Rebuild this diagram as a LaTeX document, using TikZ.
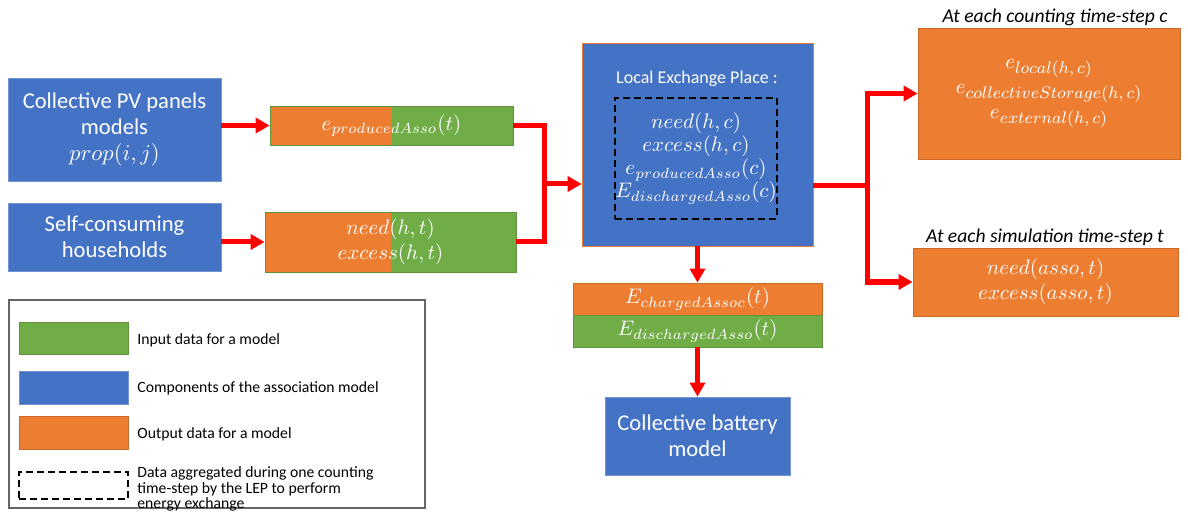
\documentclass[tikz,border=0pt]{standalone}
\usepackage{fix-cm}
\usepackage{fontspec}
\setsansfont{Carlito}
\usetikzlibrary{arrows.meta}
\definecolor{compblue}{HTML}{4472C4}
\definecolor{outorange}{HTML}{ED7D31}
\definecolor{ingreen}{HTML}{70AD47}
\newcommand\wsub[1]{\hbox{\fontsize{8.4}{9}\selectfont$#1$}}
\tikzset{
  box/.style={inner sep=0pt, align=center, text=white},
  comp/.style={box, fill=compblue, draw=compblue!75!white, font=\sffamily\fontsize{11.3}{13}\selectfont},
  outp/.style={box, fill=outorange, draw=outorange!85!black, font=\fontsize{10.5}{12.5}\selectfont},
  inp/.style={box, fill=ingreen, draw=ingreen!85!black, font=\fontsize{10.5}{12.5}\selectfont},
  halfbox/.style={inp, path picture={\fill[outorange] (path picture bounding box.south west) rectangle (path picture bounding box.north);}},
  link/.style={draw=red, line width=2.5pt},
  flow/.style={link, -{Triangle[length=7pt,width=7.5pt]}},
  steptitle/.style={font=\sffamily\itshape\fontsize{9.8}{11}\selectfont, text=black},
  legtext/.style={anchor=west, align=left, inner sep=0pt, font=\sffamily\fontsize{7.85}{7.6}\selectfont},
  swatch/.style={minimum width=54.5pt, minimum height=16pt, inner sep=0pt},
}
\begin{document}
\begin{tikzpicture}[x=0.5pt, y=-0.5pt]
  %%%%% START %%%%%
  \useasboundingbox (0,0) rectangle (1188,518);

  % models
  \node[comp, minimum width=106.5pt, minimum height=51.5pt] (pv) at (114.5,129.5) {Collective PV panels\\models\\$prop(i,j)$};
  \node[comp, minimum width=106.5pt, minimum height=34pt] (self) at (114.5,237) {Self-consuming\\households};

  \node[halfbox, minimum width=121.5pt, minimum height=19.5pt] (eprod) at (391.5,125.5) {$e_{producedAsso}(t)$};
  \node[halfbox, minimum width=125.5pt, minimum height=30pt] (need) at (390.5,242) {$need(h,t)$\\$excess(h,t)$};

  % local exchange place
  \node[comp, draw=outorange, minimum width=115.5pt, minimum height=101.5pt] (lep) at (697.5,144.5) {};
  \node[text=white, font=\sffamily\fontsize{9}{10}\selectfont] (leptitle) at (697,79) {Local Exchange Place :};
  \node[box, draw=black, dashed, line width=1pt, dash pattern=on 3.5pt off 2pt,
        minimum width=79pt, minimum height=60.5pt, font=\fontsize{10.5}{11.5}\selectfont] (agg) at (696,158.5)
        {$need(h,c)$\\$excess(h,c)$\\$e_{producedAsso}(c)$\\$E_{dischargedAsso}(c)$};

  % outputs
  \node[outp, minimum width=131pt, minimum height=65.5pt] (outc) at (1049,93.5)
        {$e_{\wsub{local(h,c)}}$\\$e_{\wsub{collectiveStorage(h,c)}}$\\$e_{\wsub{external(h,c)}}$};
  \node[steptitle] (titc) at (1055,17) {At each counting time-step c};
  \node[outp, minimum width=132.5pt, minimum height=34pt] (outs) at (1045.5,282) {$need(asso,t)$\\$excess(asso,t)$};
  \node[steptitle] (tits) at (1045,237) {At each simulation time-step t};

  \node[outp, minimum width=124.5pt, minimum height=16pt] (chg) at (697.5,299) {$E_{chargedAssoc}(t)$};
  \node[inp, minimum width=124.5pt, minimum height=16pt] (dis) at (697.5,331) {$E_{dischargedAsso}(t)$};
  \node[comp, minimum width=92.5pt, minimum height=39pt] (bat) at (697.5,436) {Collective battery\\model};

  % connectors
  \draw[flow] (pv.east |- eprod.west) -- (eprod.west);
  \draw[flow] (self.east |- need.west) -- (need.west);
  \coordinate (jin) at (544,184);
  \draw[link] (eprod.east) -| (jin) |- (need.east);
  \draw[flow] (jin) -- (jin -| lep.west);
  \coordinate (jout) at (867,186);
  \draw[link] (lep.east |- jout) -- (jout);
  \draw[flow] (jout) |- (outc.west);
  \draw[flow] (jout) |- (outs.west);
  \draw[flow] (lep.south) -- (chg.north);
  \draw[flow] (dis.south) -- (bat.north);

  % legend
  \draw[black!60, line width=0.7pt] (9,300) rectangle (425,508);
  \node[swatch, fill=ingreen, draw=ingreen!85!black] (lgin) at (73.5,338) {};
  \node[swatch, fill=compblue, draw=compblue!75!white, minimum height=16.5pt] (lgcomp) at (73.5,387.5) {};
  \node[swatch, fill=outorange, draw=outorange!85!black, minimum height=16.5pt] (lgout) at (73.5,432.5) {};
  \node[swatch, draw=black, line width=1pt, dash pattern=on 3.5pt off 2pt, minimum height=13.5pt] (lgagg) at (73.5,485.5) {};
  \node[legtext] at (137,340) {Input data for a model};
  \node[legtext] at (137,388) {Components of the association model};
  \node[legtext] at (137,434) {Output data for a model};
  \node[legtext] at (137,489) {Data aggregated during one counting\\time-step by the LEP to perform\\energy exchange};
  %%%%% END %%%%%
\end{tikzpicture}
\end{document}
